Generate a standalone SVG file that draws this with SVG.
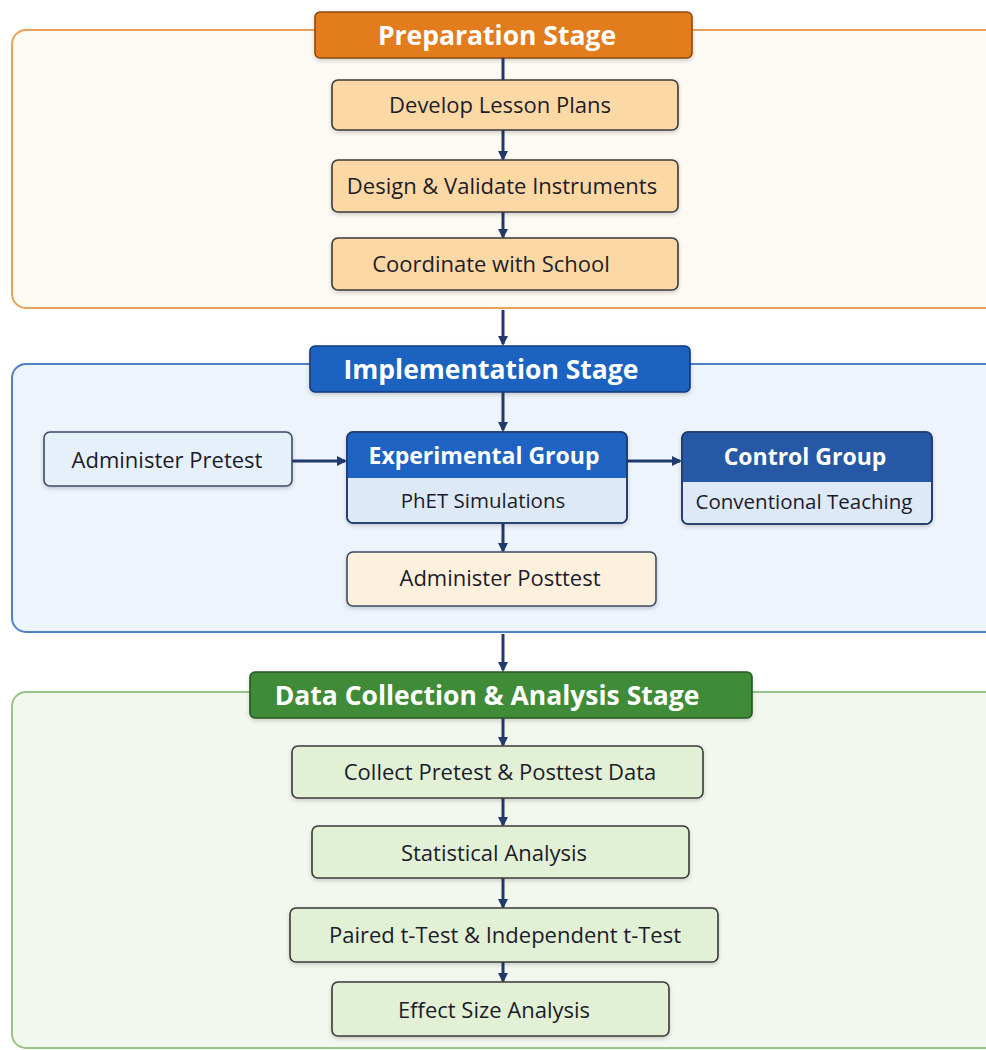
<svg xmlns="http://www.w3.org/2000/svg" width="986" height="1050" viewBox="0 0 986 1050">
<defs>
<style>
text{font-family:"Open Sans","Noto Sans","Liberation Sans",sans-serif;text-anchor:middle;dominant-baseline:central}
.hd{font-weight:700;font-size:26.5px;fill:#fff}
.sub{font-weight:700;font-size:23px;fill:#fff}
.t{font-size:22px;fill:#1c1c2a}
.s{font-size:20.5px;fill:#1c1c2a}
.c{stroke:#1f3a6b;stroke-width:3;fill:none}
.box{stroke:#3a3a3a;stroke-width:1.6}
</style>
<marker id="ah" markerWidth="10" markerHeight="10" refX="8" refY="5" orient="auto" markerUnits="userSpaceOnUse" viewBox="0 0 10 10">
<path d="M0,0 L10,5 L0,10 z" fill="#1f3a6b"/>
</marker>
<filter id="sh" x="-10%" y="-20%" width="120%" height="150%">
<feDropShadow dx="0" dy="2" stdDeviation="2" flood-color="#000" flood-opacity="0.18"/>
</filter>
</defs>
<rect width="986" height="1050" fill="#ffffff"/>

<g id="stage-preparation">
<rect x="12" y="30" width="990" height="278" rx="14" fill="#fdf9f3" stroke="#e8a35a" stroke-width="2"/>
<rect x="315" y="12" width="377" height="46" rx="5" fill="#e27b1c" stroke="#8a4a12" stroke-width="1.6" filter="url(#sh)"/>
<text class="hd" x="497" y="35">Preparation Stage</text>
</g>
<g id="stage-implementation">
<rect x="12" y="364" width="990" height="268" rx="14" fill="#eef4fc" stroke="#4f7fc4" stroke-width="2"/>
<rect x="310" y="346" width="380" height="46" rx="5" fill="#1e63c1" stroke="#0f3a7a" stroke-width="1.6" filter="url(#sh)"/>
<text class="hd" x="491" y="369">Implementation Stage</text>
</g>
<g id="stage-data">
<rect x="12" y="692" width="990" height="356" rx="14" fill="#f3f8ee" stroke="#98c488" stroke-width="2"/>
<rect x="250" y="672" width="502" height="46" rx="5" fill="#3f8b37" stroke="#245a20" stroke-width="1.6" filter="url(#sh)"/>
<text class="hd" x="487" y="695">Data Collection &amp; Analysis Stage</text>
</g>

<g id="connectors">
<line class="c" x1="503" y1="58" x2="503" y2="80"/>
<line class="c" x1="503" y1="130" x2="503" y2="159" marker-end="url(#ah)"/>
<line class="c" x1="503" y1="212" x2="503" y2="237" marker-end="url(#ah)"/>
<line class="c" x1="503" y1="310" x2="503" y2="344" marker-end="url(#ah)"/>
<line class="c" x1="503" y1="392" x2="503" y2="430" marker-end="url(#ah)"/>
<line class="c" x1="292" y1="461" x2="345" y2="461" marker-end="url(#ah)"/>
<line class="c" x1="627" y1="461" x2="680" y2="461" marker-end="url(#ah)"/>
<line class="c" x1="503" y1="523" x2="503" y2="551" marker-end="url(#ah)"/>
<line class="c" x1="503" y1="634" x2="503" y2="670" marker-end="url(#ah)"/>
<line class="c" x1="503" y1="718" x2="503" y2="745" marker-end="url(#ah)"/>
<line class="c" x1="503" y1="798" x2="503" y2="825" marker-end="url(#ah)"/>
<line class="c" x1="503" y1="878" x2="503" y2="907" marker-end="url(#ah)"/>
<line class="c" x1="503" y1="962" x2="503" y2="981" marker-end="url(#ah)"/>
</g>

<g id="develop-lesson-plans">
<rect class="box" x="332" y="80" width="346" height="50" rx="6" fill="#fcd9a4" filter="url(#sh)"/>
<text class="t" x="500" y="104">Develop Lesson Plans</text>
</g>
<g id="design-validate">
<rect class="box" x="332" y="160" width="346" height="52" rx="6" fill="#fcd9a4" filter="url(#sh)"/>
<text class="t" x="502" y="185">Design &amp; Validate Instruments</text>
</g>
<g id="coordinate-school">
<rect class="box" x="332" y="238" width="346" height="52" rx="6" fill="#fcd9a4" filter="url(#sh)"/>
<text class="t" x="491" y="263">Coordinate with School</text>
</g>

<g id="administer-pretest">
<rect x="44" y="432" width="248" height="54" rx="6" fill="#e6f0fa" stroke="#3b4a66" stroke-width="1.6" filter="url(#sh)"/>
<text class="t" x="167" y="459">Administer Pretest</text>
</g>
<g id="experimental-group">
<rect x="347" y="432" width="280" height="91" rx="6" fill="#dde9f7" stroke="#1f3a6b" stroke-width="1.6" filter="url(#sh)"/>
<path d="M353,432 H621 A6,6 0 0 1 627,438 V478 H347 V438 A6,6 0 0 1 353,432 Z" fill="#1e63c1"/>
<rect x="347" y="432" width="280" height="91" rx="6" fill="none" stroke="#1f3a6b" stroke-width="1.6"/>
<text class="sub" x="484" y="455">Experimental Group</text>
<text class="s" x="483" y="500">PhET Simulations</text>
</g>
<g id="control-group">
<rect x="682" y="432" width="250" height="92" rx="6" fill="#dde9f7" stroke="#1f3a6b" stroke-width="1.6" filter="url(#sh)"/>
<path d="M688,432 H926 A6,6 0 0 1 932,438 V482 H682 V438 A6,6 0 0 1 688,432 Z" fill="#2658a6"/>
<rect x="682" y="432" width="250" height="92" rx="6" fill="none" stroke="#1f3a6b" stroke-width="1.6"/>
<text class="sub" x="805" y="456">Control Group</text>
<text class="s" x="804" y="501">Conventional Teaching</text>
</g>
<g id="administer-posttest">
<rect x="347" y="552" width="309" height="54" rx="6" fill="#fdf1de" stroke="#3b4a66" stroke-width="1.6" filter="url(#sh)"/>
<text class="t" x="500" y="577">Administer Posttest</text>
</g>

<g id="collect-data">
<rect class="box" x="292" y="746" width="411" height="52" rx="6" fill="#e2f0d6" filter="url(#sh)"/>
<text class="t" x="500" y="771">Collect Pretest &amp; Posttest Data</text>
</g>
<g id="statistical-analysis">
<rect class="box" x="312" y="826" width="377" height="52" rx="6" fill="#e2f0d6" filter="url(#sh)"/>
<text class="t" x="494" y="852">Statistical Analysis</text>
</g>
<g id="t-tests">
<rect class="box" x="290" y="908" width="428" height="54" rx="6" fill="#e2f0d6" filter="url(#sh)"/>
<text class="t" x="505" y="934">Paired t-Test &amp; Independent t-Test</text>
</g>
<g id="effect-size">
<rect class="box" x="332" y="982" width="337" height="54" rx="6" fill="#e2f0d6" filter="url(#sh)"/>
<text class="t" x="494" y="1009">Effect Size Analysis</text>
</g>
</svg>
